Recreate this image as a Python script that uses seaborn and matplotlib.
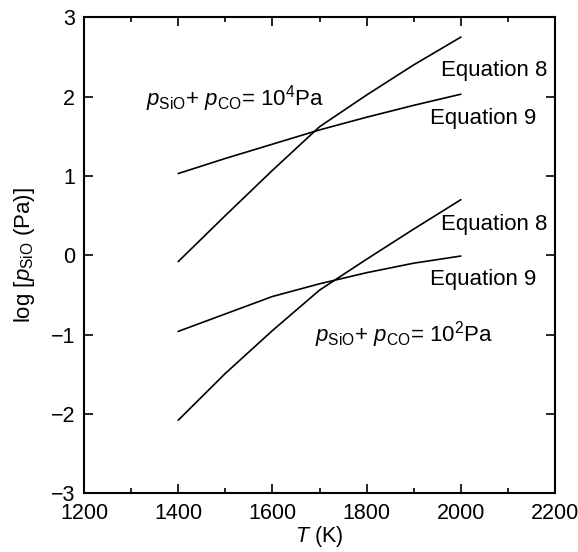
import numpy as np
import pandas as pd
import seaborn as sns
import matplotlib
matplotlib.use('Agg')
from matplotlib import pyplot as plt
from matplotlib.ticker import MultipleLocator

# temperatures (K) and log p_SiO values
temps = [1400, 1500, 1600, 1700, 1800, 1900, 2000]
eq8_hi = [-0.08, 0.50, 1.07, 1.62, 2.02, 2.40, 2.75]
eq9_hi = [1.03, 1.22, 1.40, 1.58, 1.74, 1.89, 2.03]
eq8_lo = [-2.08, -1.49, -0.95, -0.44, -0.05, 0.33, 0.70]
eq9_lo = [-0.96, -0.74, -0.52, -0.36, -0.22, -0.10, -0.01]

series = {'eq8_hi': eq8_hi, 'eq9_hi': eq9_hi, 'eq8_lo': eq8_lo, 'eq9_lo': eq9_lo}
frames = []
for name, vals in series.items():
    frames.append(pd.DataFrame({'T': temps, 'logp': vals, 'curve': name}))
df = pd.concat(frames, ignore_index=True)

sns.set_theme(style='ticks')
plt.rcParams['font.family'] = ['Liberation Sans', 'DejaVu Sans']
plt.rcParams['mathtext.fontset'] = 'custom'
plt.rcParams['mathtext.rm'] = 'Liberation Sans'
plt.rcParams['mathtext.it'] = 'Liberation Sans:italic'
plt.rcParams['axes.unicode_minus'] = True
for k in ['text.color', 'axes.labelcolor', 'xtick.color', 'ytick.color',
          'xtick.labelcolor', 'ytick.labelcolor']:
    plt.rcParams[k] = 'black'

fig = plt.figure(figsize=(5.78, 5.52), dpi=100)
ax = fig.add_axes([0.1453, 0.1065, 0.8150, 0.8622])

sns.lineplot(data=df, x='T', y='logp', units='curve', estimator=None,
             color='black', linewidth=1.2, ax=ax, legend=False)

ax.set_xlim(1200, 2200)
ax.set_ylim(-3, 3)
ax.xaxis.set_major_locator(MultipleLocator(200))
ax.xaxis.set_minor_locator(MultipleLocator(100))
ax.yaxis.set_major_locator(MultipleLocator(1))
ax.tick_params(which='both', direction='in', top=True, right=True,
               width=1.2, color='black', labelcolor='black')
ax.tick_params(which='major', length=6.5, labelsize=15.5)
ax.tick_params(which='minor', length=3.5)
ax.tick_params(axis='x', pad=7)
ax.tick_params(axis='y', pad=6.5)
for s in ax.spines.values():
    s.set_linewidth(1.5)
    s.set_color('black')

ax.set_xlabel(r'$T$ (K)', fontsize=15.5, labelpad=0)
ax.set_ylabel(r'log [$p_{\mathrm{SiO}}$ (Pa)]', fontsize=16, labelpad=10)

fs = 16
ax.text(1957, 2.33, 'Equation 8', fontsize=fs, va='center', ha='left')
ax.text(1935, 1.72, 'Equation 9', fontsize=fs, va='center', ha='left')
ax.text(1957, 0.39, 'Equation 8', fontsize=fs, va='center', ha='left')
ax.text(1935, -0.30, 'Equation 9', fontsize=fs, va='center', ha='left')
ax.text(1332, 1.97, r'$p_{\mathrm{SiO}}$+ $p_{\mathrm{CO}}$= 10$^4$Pa',
        fontsize=fs, va='center', ha='left')
ax.text(1691, -1.00, r'$p_{\mathrm{SiO}}$+ $p_{\mathrm{CO}}$= 10$^2$Pa',
        fontsize=fs, va='center', ha='left')

fig.savefig('out.png', dpi=100)
